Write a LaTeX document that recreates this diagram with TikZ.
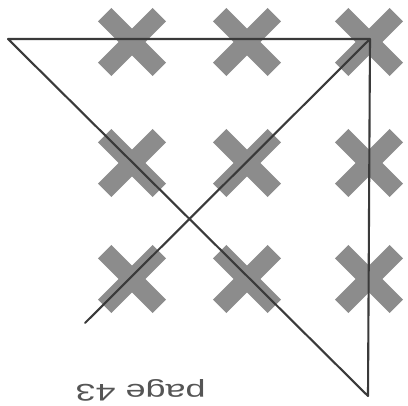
\documentclass[tikz,border=0pt]{standalone}
\usepackage{fontspec}
\setmainfont{Liberation Sans}
\definecolor{xgrey}{HTML}{8C8C8C}
\definecolor{lgrey}{HTML}{3A3A3A}
\definecolor{tgrey}{HTML}{555555}
\tikzset{
  xarm/.style={line width=19pt, xgrey, line cap=butt},
  sketch/.style={line width=2.1pt, lgrey, line join=round, line cap=round},
  pagelabel/.style={text=tgrey, font=\fontsize{24}{24}\selectfont, inner sep=0pt, anchor=base, rotate=180, xscale=1.5}
}
\newcommand{\xmarkat}[2]{%
  \draw[xarm] ($(#1,#2)+(-27.3,-27.3)$) -- ($(#1,#2)+(27.3,27.3)$);
  \draw[xarm] ($(#1,#2)+(-27.3,27.3)$) -- ($(#1,#2)+(27.3,-27.3)$);
}
\usetikzlibrary{calc}
\begin{document}
\begin{tikzpicture}[x=1pt,y=-1pt]
\fill[white] (0,0) rectangle (408,406);
\useasboundingbox (0,0) rectangle (408,406);
\foreach \cx in {132,247,369} {
  \foreach \cy in {42,163,279} {
    \xmarkat{\cx}{\cy}
  }
}
\coordinate (A) at (8,39);
\coordinate (B) at (370,39);
\coordinate (C) at (368,396);
\coordinate (D) at (85,323);
\draw[sketch] (D) -- (B) -- (C) -- (A) -- (B);
\node[pagelabel] (lbl) at (140.5,385) {page 43};
\end{tikzpicture}
\end{document}
